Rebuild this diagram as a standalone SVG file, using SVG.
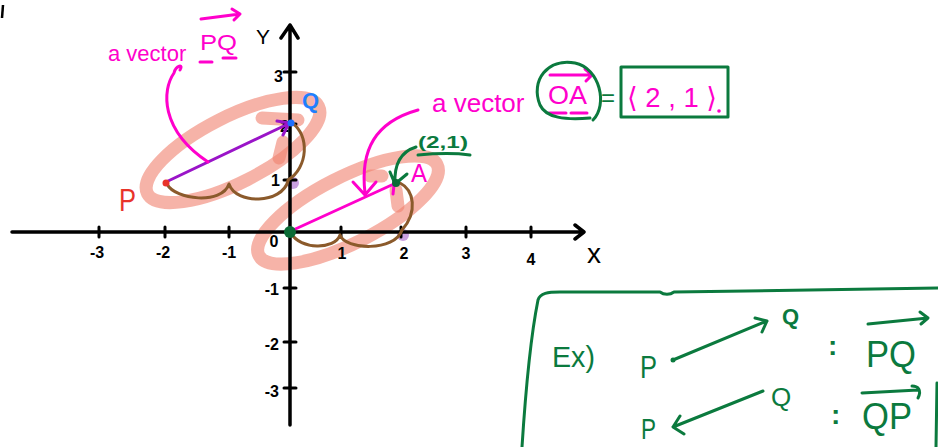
<svg xmlns="http://www.w3.org/2000/svg" width="938" height="447" viewBox="0 0 938 447">
<style>
  text { font-family: "Liberation Sans", "DejaVu Sans", sans-serif; }
  .hl { fill: none; stroke: #f0806e; stroke-opacity: 0.6; stroke-width: 13; stroke-linecap: round; }
  .ax { stroke: #000; stroke-width: 3.5; fill: none; stroke-linecap: round; stroke-linejoin: round; }
  .tick { stroke: #000; stroke-width: 3; stroke-linecap: round; }
  .lbl { font-size: 16px; font-weight: bold; fill: #000; }
  .brace { fill: none; stroke: #8b5a2b; stroke-width: 3; stroke-linecap: round; stroke-linejoin: round; }
  .mg { fill: none; stroke: #ff00cc; stroke-width: 3; stroke-linecap: round; stroke-linejoin: round; }
  .gr { fill: none; stroke: #0b7a3e; stroke-width: 3; stroke-linecap: round; stroke-linejoin: round; }
  .mgt { fill: #ff00cc; }
  .grt { fill: #0b7a3e; }
  .b { font-weight: bold; }
</style>
<rect width="938" height="447" fill="#fff"/>
<line x1="3" y1="5" x2="2" y2="18" stroke="#000" stroke-width="2.5"/>

<g id="highlights">
  <ellipse class="hl" cx="233" cy="150" rx="96" ry="33" transform="rotate(-27 233 150)"/>
  <ellipse class="hl" cx="348" cy="210" rx="100" ry="33" transform="rotate(-27 348 210)"/>
  <line class="hl" x1="262" y1="118" x2="298" y2="120"/>
  <path class="hl" d="M283 142 L279 158" stroke-width="14"/>
  <line class="hl" x1="370" y1="176" x2="382" y2="176"/>
  <line class="hl" x1="396" y1="190" x2="398" y2="206"/>
  <circle cx="293" cy="183" r="6" fill="#c9a0e0"/>
  <circle cx="403" cy="235" r="6" fill="#c9a0e0"/>
</g>

<g id="axes">
  <path class="ax" d="M12 232 L583 232 M575 225 L584 232 L575 239"/>
  <path class="ax" d="M290 425 L290 25 M281 38 L290 25 L298 38"/>
  <g class="tick">
    <line x1="99" y1="227" x2="99" y2="237"/>
    <line x1="165" y1="227" x2="165" y2="237"/>
    <line x1="229" y1="227" x2="229" y2="237"/>
    <line x1="341" y1="227" x2="341" y2="237"/>
    <line x1="401" y1="227" x2="401" y2="237"/>
    <line x1="466" y1="227" x2="466" y2="237"/>
    <line x1="531" y1="227" x2="531" y2="237"/>
    <line x1="284" y1="72" x2="296" y2="72"/>
    <line x1="284" y1="124" x2="296" y2="124"/>
    <line x1="284" y1="180" x2="296" y2="180"/>
    <line x1="284" y1="288" x2="296" y2="288"/>
    <line x1="284" y1="342" x2="296" y2="342"/>
    <line x1="284" y1="388" x2="296" y2="388"/>
  </g>
  <text class="lbl" x="97" y="258" text-anchor="middle">-3</text>
  <text class="lbl" x="163" y="258" text-anchor="middle">-2</text>
  <text class="lbl" x="229" y="258" text-anchor="middle">-1</text>
  <text class="lbl" x="274" y="247" text-anchor="middle">0</text>
  <text class="lbl" x="342" y="259" text-anchor="middle">1</text>
  <text class="lbl" x="404" y="259" text-anchor="middle">2</text>
  <text class="lbl" x="466" y="259" text-anchor="middle">3</text>
  <text class="lbl" x="531" y="265" text-anchor="middle" font-size="19">4</text>
  <text x="587" y="263" font-size="28" fill="#000">x</text>
  <text x="256" y="44" font-size="21" fill="#000">Y</text>
  <text class="lbl" x="283" y="82" text-anchor="end" font-size="18">3</text>
  <text class="lbl" x="289" y="132" text-anchor="end">2</text>
  <text class="lbl" x="280" y="186" text-anchor="end">1</text>
  <text class="lbl" x="279" y="295" text-anchor="end">-1</text>
  <text class="lbl" x="279" y="350" text-anchor="end">-2</text>
  <text class="lbl" x="279" y="397" text-anchor="end">-3</text>
</g>

<g id="connectors">
  <path class="brace" d="M167 184 C175 200 222 205 229 184 C236 205 282 204 288 181"/>
  <path class="brace" d="M288 180 C308 168 310 135 292 123"/>
  <path class="brace" d="M291 233 C300 250 335 250 340 235 C345 250 395 252 402 230"/>
  <path class="brace" d="M402 230 C418 212 414 190 400 183"/>
  <path d="M166 182 L288 124 M277 121 L289 123 L283 135" fill="none" stroke="#9a14c8" stroke-width="3" stroke-linecap="round" stroke-linejoin="round"/>
  <path class="mg" d="M291 231 L396 183 M394 185 L393 194"/>
  <path class="mg" d="M180 70 C184 64 176 65 174 73 C162 90 160 130 208 162"/>
  <path class="mg" d="M418 110 C375 122 360 150 365 193 M353 182 L365 195 L376 182"/>
  <path class="gr" d="M416 147 C400 152 394 165 395 184 M390 172 L395 184 L407 174"/>
  <path class="gr" d="M418 155 C440 153 455 153 470 155"/>
</g>

<g id="points">
  <circle cx="166" cy="183" r="3.5" fill="#e8332a"/>
  <circle cx="291" cy="123" r="3.5" fill="#1e6fff"/>
  <circle cx="290" cy="232" r="6" fill="#0b6b35"/>
  <circle cx="396" cy="183" r="4" fill="#0b6b35"/>
</g>

<g id="label-P">
  <text x="119" y="211" font-size="32" fill="#e8332a" textLength="17" lengthAdjust="spacingAndGlyphs">P</text>
</g>
<g id="label-Q">
  <text x="302" y="108" font-size="22" class="b" fill="#1e7fff">Q</text>
</g>
<g id="label-A">
  <text x="411" y="182" font-size="26" class="mgt" textLength="16" lengthAdjust="spacingAndGlyphs">A</text>
</g>
<g id="label-21">
  <text x="418" y="148" font-size="17" class="grt b" textLength="50" lengthAdjust="spacingAndGlyphs">(2,1)</text>
</g>

<g id="label-vectorPQ">
  <text x="108" y="61" font-size="22" class="mgt">a vector</text>
  <text x="200" y="50" font-size="22" class="mgt" textLength="37" lengthAdjust="spacingAndGlyphs">PQ</text>
  <path class="mg" d="M201 19 L240 14 M232 9 L240 14 L234 20"/>
  <path class="mg" d="M200 62 L212 62 M223 58 L236 58"/>
</g>

<g id="label-vectorOA">
  <text x="432" y="112" font-size="26" class="mgt">a vector</text>
  <text x="548" y="104" font-size="26" class="mgt" textLength="39" lengthAdjust="spacingAndGlyphs">OA</text>
  <path class="mg" d="M550 75 L592 75 M585 69 L592 75 L586 81"/>
  <path class="mg" d="M549 113 L566 113 M571 113 L587 113"/>
  <path class="gr" d="M593 120 C608 105 600 68 575 63 C548 58 530 80 540 105 C546 118 565 120 590 118"/>
  <text x="601" y="106" font-size="24" class="grt">=</text>
  <rect x="621" y="67" width="107" height="50" class="gr"/>
  <text x="627" y="107" font-size="28" class="mgt" textLength="90" lengthAdjust="spacingAndGlyphs">⟨ 2 , 1 ⟩</text>
  <circle cx="719" cy="111" r="1.8" fill="#ff00cc"/>
</g>

<g id="example">
  <path class="gr" d="M522 447 C525 400 530 340 538 300 C540 293 548 292 560 292 L660 292 C664 295 670 295 674 292 L938 288"/>
  <path class="gr" d="M937 383 L936 447"/>
  <text x="552" y="367" font-size="30" class="grt" textLength="43" lengthAdjust="spacingAndGlyphs">Ex)</text>
  <text x="640" y="378" font-size="32" class="grt" textLength="17" lengthAdjust="spacingAndGlyphs">P</text>
  <path class="gr" d="M673 360 L767 321 M755 318 L767 321 L762 332"/>
  <circle cx="673" cy="360" r="2.5" fill="#0b7a3e"/>
  <text x="782" y="324" font-size="22" class="grt b">Q</text>
  <text x="828" y="355" font-size="28" class="grt b">:</text>
  <text x="866" y="367" font-size="36" class="grt" textLength="50" lengthAdjust="spacingAndGlyphs">PQ</text>
  <path class="gr" d="M868 324 L928 318 M920 312 L928 318 L921 324"/>
  <text x="771" y="406" font-size="26" class="grt">Q</text>
  <path class="gr" d="M763 391 L673 427 M680 416 L673 427 L684 434"/>
  <text x="641" y="439" font-size="29" class="grt" textLength="15" lengthAdjust="spacingAndGlyphs">P</text>
  <text x="831" y="424" font-size="28" class="grt b">:</text>
  <text x="862" y="429" font-size="36" class="grt" textLength="50" lengthAdjust="spacingAndGlyphs">QP</text>
  <path class="gr" d="M862 393 L918 390 M912 386 C918 386 922 390 918 398"/>
</g>
</svg>
